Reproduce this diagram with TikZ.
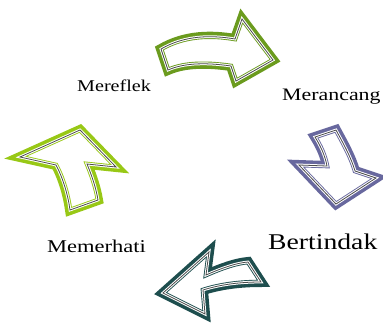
\documentclass[tikz,border=0pt]{standalone}
\usepackage{graphicx}
\usepackage{fontspec}
\setmainfont{Liberation Serif}
\definecolor{cTop}{RGB}{107,155,30}
\definecolor{cRight}{RGB}{104,104,158}
\definecolor{cBottom}{RGB}{30,78,78}
\definecolor{cLeft}{RGB}{152,200,22}
\tikzset{bandline/.style={line join=miter,miter limit=10}}
\newcommand\triband[2]{%
  \draw[bandline,line width=10pt,draw=#1] #2;
  \fill[white] #2;
  \draw[bandline,line width=4.6pt,draw=#1] #2;
  \draw[bandline,line width=2.8pt,draw=white] #2;
  \draw[bandline,line width=0.8pt,draw=black!70] #2;}
\begin{document}
\begin{tikzpicture}[x=1pt,y=-1pt]
\useasboundingbox (0,0) rectangle (383,322);
\tikzset{lbl/.style={inner sep=0pt,anchor=base west}}
% top arrow
\triband{cTop}{(161,49) .. controls (185,35) and (212,35) .. (235,39) -- (242,19) -- (273,60) -- (236,81) -- (231,66) .. controls (210,63) and (186,62) .. (168,70) -- cycle}
% right arrow
\triband{cRight}{(315,137) -- (336,130) .. controls (343,143) and (351,157) .. (355,171) -- (376,178) -- (336,204) -- (299,165) -- (327,166) .. controls (325,155) and (320,145) .. (315,137) -- cycle}
% bottom arrow
\triband{cBottom}{(163,293) -- (209,252) -- (206,275) .. controls (222,268) and (236,263) .. (248,262) -- (261,282) .. controls (242,282) and (222,284) .. (203,290) -- (205,314) -- cycle}
% left arrow
\triband{cLeft}{(80,130) -- (116,167) -- (87,164) .. controls (92,176) and (96,188) .. (98,200) -- (70,210) .. controls (68,195) and (63,178) .. (56,165) -- (20,157) -- cycle}
% labels
\node[lbl] (mereflek) at (77,91) {\fontsize{16.5}{16.5}\selectfont\scalebox{1.22}[1]{Mereflek}};
\node[lbl] (merancang) at (282,100) {\fontsize{17.5}{17.5}\selectfont\scalebox{1.25}[1]{Merancang}};
\node[lbl] (bertindak) at (268,249) {\fontsize{22.5}{22.5}\selectfont\scalebox{1.23}[1]{Bertindak}};
\node[lbl] (memerhati) at (47,252) {\fontsize{18}{18}\selectfont\scalebox{1.25}[1]{Memerhati}};
\end{tikzpicture}
\end{document}
